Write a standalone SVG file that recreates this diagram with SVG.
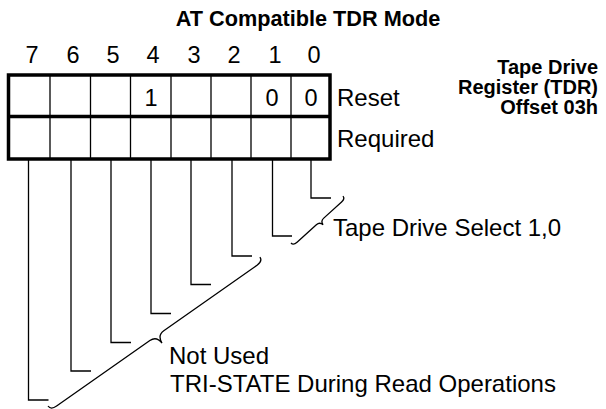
<svg xmlns="http://www.w3.org/2000/svg" width="606" height="409" viewBox="0 0 606 409">
<style>
text{font-family:"Liberation Sans",Arial,Helvetica,sans-serif;fill:#000}
.r{font-size:24px}
.t{font-size:21.7px;font-weight:bold}
.b{font-size:20px;font-weight:bold;text-anchor:end}
.d{font-size:23.5px;text-anchor:middle}
.thick{fill:none;stroke:#000;stroke-width:3.5}
.thin{fill:none;stroke:#000;stroke-width:1.3}
</style>
<rect width="606" height="409" fill="#fff"/>
<g id="title"><text class="t" x="308" y="26" text-anchor="middle">AT Compatible TDR Mode</text></g>
<g id="bit-numbers">
<text class="d" x="32" y="63">7</text>
<text class="d" x="73" y="63">6</text>
<text class="d" x="113" y="63">5</text>
<text class="d" x="153" y="63">4</text>
<text class="d" x="194" y="63">3</text>
<text class="d" x="234" y="63">2</text>
<text class="d" x="275" y="63">1</text>
<text class="d" x="314" y="63">0</text>
</g>
<g id="register">
<g class="thin">
<line x1="50" y1="75" x2="50" y2="159"/>
<line x1="90.5" y1="75" x2="90.5" y2="159"/>
<line x1="130.5" y1="75" x2="130.5" y2="159"/>
<line x1="171" y1="75" x2="171" y2="159"/>
<line x1="211" y1="75" x2="211" y2="159"/>
<line x1="251" y1="75" x2="251" y2="159"/>
<line x1="291" y1="75" x2="291" y2="159"/>
</g>
<rect class="thick" x="8.5" y="75" width="321.5" height="84"/>
<line class="thick" x1="8.5" y1="116.5" x2="330" y2="116.5"/>
<text class="d" x="151" y="106">1</text>
<text class="d" x="272" y="106">0</text>
<text class="d" x="311" y="106">0</text>
<text class="r" x="337" y="106">Reset</text>
<text class="r" x="337" y="147">Required</text>
</g>
<g id="register-name">
<text class="b" x="598" y="74">Tape Drive</text>
<text class="b" x="598" y="94">Register (TDR)</text>
<text class="b" x="598" y="114">Offset 03h</text>
</g>
<g id="connectors" class="thin">
<polyline points="311,159 311,198 331,198"/>
<polyline points="272.5,159 272.5,236 292,236"/>
<polyline points="232,159 232,256 252,256"/>
<polyline points="191,159 191,284.5 211,284.5"/>
<polyline points="151,159 151,313.5 171,313.5"/>
<polyline points="111,159 111,342.5 131,342.5"/>
<polyline points="71,159 71,371 91,371"/>
<polyline points="28.5,159 28.5,400 48.5,400"/>
<path transform="translate(291,243) rotate(-42.1)" d="M0,0 Q0,3.5 5,3.5 L31,3.5 Q35.5,3.5 36,8 Q36.5,3.5 41,3.5 L65,3.5 Q70,3.5 70,0"/>
<path transform="translate(48,406) rotate(-35.1)" d="M0,0 Q0,5 7,5 L121,5 Q129,5 129.5,14 Q130,5 138,5 L252,5 Q259,5 259,0"/>
</g>
<g id="labels">
<text class="r" x="333" y="236">Tape Drive Select 1,0</text>
<text class="r" x="169" y="364">Not Used</text>
<text class="r" x="170" y="392">TRI-STATE During Read Operations</text>
</g>
</svg>
